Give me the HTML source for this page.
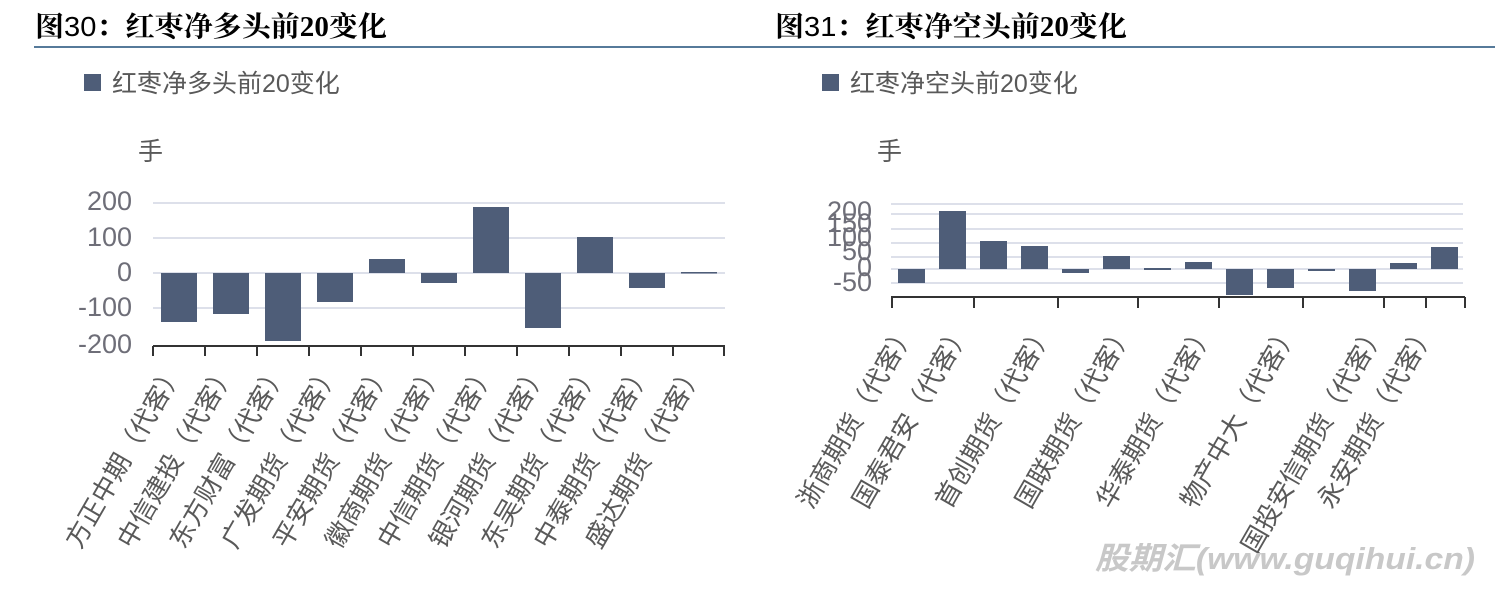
<!DOCTYPE html>
<html><head><meta charset="utf-8"><style>
html,body{margin:0;padding:0;background:#fff;}
svg{display:block;}
text{font-family:"Liberation Sans","Noto Sans CJK SC",sans-serif;}
</style></head><body>
<svg width="1495" height="589" viewBox="0 0 1495 589" xmlns="http://www.w3.org/2000/svg">
<rect width="1495" height="589" fill="#fff"/>
<!-- titles -->
<text x="35" y="36" font-size="28" font-weight="bold" fill="#000" style="font-family:'Liberation Serif','Noto Serif CJK SC',serif" textLength="352" lengthAdjust="spacingAndGlyphs">图<tspan font-weight="normal" style="font-family:'Liberation Sans',sans-serif">30</tspan>：红枣净多头前20变化</text>
<text x="775" y="36" font-size="28" font-weight="bold" fill="#000" style="font-family:'Liberation Serif','Noto Serif CJK SC',serif" textLength="352" lengthAdjust="spacingAndGlyphs">图<tspan font-weight="normal" style="font-family:'Liberation Sans',sans-serif">31</tspan>：红枣净空头前20变化</text>
<line x1="34" y1="47" x2="1495" y2="47" stroke="#1f4e79" stroke-width="1.5"/>
<!-- legends -->
<rect x="84" y="74" width="17" height="17" fill="#4e5d78"/>
<text x="112" y="92" font-size="25" fill="#595959">红枣净多头前20变化</text>
<rect x="822" y="74" width="17" height="17" fill="#4e5d78"/>
<text x="850" y="92" font-size="25" fill="#595959">红枣净空头前20变化</text>
<text x="138" y="160" font-size="25" fill="#595959">手</text>
<text x="877" y="160" font-size="25" fill="#595959">手</text>

<!-- left chart -->
<g stroke="#dde0ea" stroke-width="2">
<line x1="153" y1="203" x2="725" y2="203"/><line x1="153" y1="238" x2="725" y2="238"/>
<line x1="153" y1="273" x2="725" y2="273"/><line x1="153" y1="308" x2="725" y2="308"/>
</g>
<g font-size="27" fill="#6e6e78" text-anchor="end">
<text x="132" y="210">200</text><text x="132" y="246">100</text><text x="132" y="281">0</text>
<text x="132" y="316">-100</text><text x="132" y="353">-200</text>
</g>
<g fill="#4e5d78">
<rect x="161" y="273" width="36" height="49"/>
<rect x="213" y="273" width="36" height="41"/>
<rect x="265" y="273" width="36" height="68"/>
<rect x="317" y="273" width="36" height="29"/>
<rect x="369" y="259" width="36" height="14"/>
<rect x="421" y="273" width="36" height="10"/>
<rect x="473" y="207" width="36" height="66"/>
<rect x="525" y="273" width="36" height="55"/>
<rect x="577" y="237" width="36" height="36"/>
<rect x="629" y="273" width="36" height="15"/>
<rect x="681" y="272" width="36" height="1.5"/>
</g>
<g stroke="#333" stroke-width="2">
<line x1="153" y1="346" x2="725" y2="346"/>
<line x1="153" y1="346" x2="153" y2="356"/><line x1="205" y1="346" x2="205" y2="356"/>
<line x1="257" y1="346" x2="257" y2="356"/><line x1="309" y1="346" x2="309" y2="356"/>
<line x1="361" y1="346" x2="361" y2="356"/><line x1="413" y1="346" x2="413" y2="356"/>
<line x1="465" y1="346" x2="465" y2="356"/><line x1="517" y1="346" x2="517" y2="356"/>
<line x1="569" y1="346" x2="569" y2="356"/><line x1="621" y1="346" x2="621" y2="356"/>
<line x1="673" y1="346" x2="673" y2="356"/><line x1="724" y1="346" x2="724" y2="356"/>
</g>
<g font-size="26" fill="#595959" text-anchor="end">
<text transform="translate(184,370) rotate(-60)">方正中期（代客）</text>
<text transform="translate(236,370) rotate(-60)">中信建投（代客）</text>
<text transform="translate(288,370) rotate(-60)">东方财富（代客）</text>
<text transform="translate(340,370) rotate(-60)">广发期货（代客）</text>
<text transform="translate(392,370) rotate(-60)">平安期货（代客）</text>
<text transform="translate(444,370) rotate(-60)">徽商期货（代客）</text>
<text transform="translate(496,370) rotate(-60)">中信期货（代客）</text>
<text transform="translate(548,370) rotate(-60)">银河期货（代客）</text>
<text transform="translate(600,370) rotate(-60)">东吴期货（代客）</text>
<text transform="translate(652,370) rotate(-60)">中泰期货（代客）</text>
<text transform="translate(704,370) rotate(-60)">盛达期货（代客）</text>
</g>

<!-- right chart -->
<g stroke="#dde0ea" stroke-width="2">
<line x1="891" y1="204" x2="1463" y2="204"/><line x1="891" y1="214" x2="1463" y2="214"/>
<line x1="891" y1="229" x2="1463" y2="229"/><line x1="891" y1="243" x2="1463" y2="243"/>
<line x1="891" y1="257" x2="1463" y2="257"/><line x1="891" y1="269" x2="1463" y2="269"/>
<line x1="891" y1="283" x2="1463" y2="283"/>
</g>
<g font-size="27" fill="#6e6e78" text-anchor="end">
<text x="872" y="220">200</text><text x="872" y="232">150</text><text x="872" y="246">100</text>
<text x="872" y="260">50</text><text x="872" y="276">0</text><text x="872" y="291">-50</text>
</g>
<g fill="#4e5d78">
<rect x="898" y="269" width="27" height="14"/>
<rect x="939" y="211" width="27" height="58"/>
<rect x="980" y="241" width="27" height="28"/>
<rect x="1021" y="246" width="27" height="23"/>
<rect x="1062" y="269" width="27" height="4"/>
<rect x="1103" y="256" width="27" height="13"/>
<rect x="1144" y="268" width="27" height="2"/>
<rect x="1185" y="262" width="27" height="7"/>
<rect x="1226" y="269" width="27" height="26"/>
<rect x="1267" y="269" width="27" height="19"/>
<rect x="1308" y="269" width="27" height="2"/>
<rect x="1349" y="269" width="27" height="22"/>
<rect x="1390" y="263" width="27" height="6"/>
<rect x="1431" y="247" width="27" height="22"/>
</g>
<g stroke="#333" stroke-width="2">
<line x1="891" y1="297" x2="1465" y2="297"/>
<line x1="892" y1="297" x2="892" y2="308"/><line x1="974" y1="297" x2="974" y2="308"/>
<line x1="1058" y1="297" x2="1058" y2="308"/><line x1="1138" y1="297" x2="1138" y2="308"/>
<line x1="1219" y1="297" x2="1219" y2="308"/><line x1="1303" y1="297" x2="1303" y2="308"/>
<line x1="1384" y1="297" x2="1384" y2="308"/><line x1="1426" y1="297" x2="1426" y2="308"/>
<line x1="1465" y1="297" x2="1465" y2="308"/>
</g>
<g font-size="26" fill="#595959" text-anchor="end">
<text transform="translate(916,330) rotate(-60)">浙商期货（代客）</text>
<text transform="translate(971,330) rotate(-60)">国泰君安（代客）</text>
<text transform="translate(1054,330) rotate(-60)">首创期货（代客）</text>
<text transform="translate(1134,330) rotate(-60)">国联期货（代客）</text>
<text transform="translate(1215,330) rotate(-60)">华泰期货（代客）</text>
<text transform="translate(1299,330) rotate(-60)">物产中大（代客）</text>
<text transform="translate(1386,330) rotate(-60)">国投安信期货（代客）</text>
<text transform="translate(1436,330) rotate(-60)">永安期货（代客）</text>
</g>
<text x="1095" y="569" font-size="31" font-weight="bold" font-style="italic" fill="#c8c8c8" textLength="380" lengthAdjust="spacingAndGlyphs">股期汇(www.guqihui.cn)</text>
</svg>
</body></html>
